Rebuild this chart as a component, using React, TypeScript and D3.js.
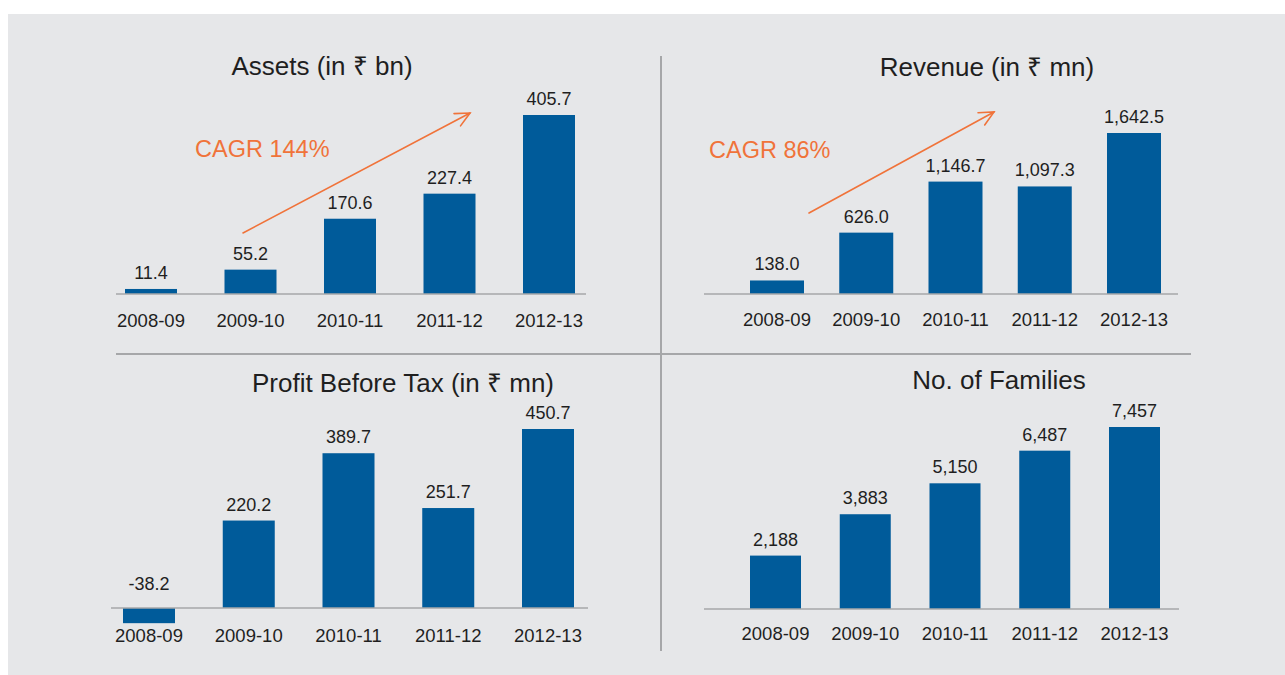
import { scaleBand, scaleLinear, formatLocale } from "d3";

// data
const years = ["2008-09", "2009-10", "2010-11", "2011-12", "2012-13"];
const assets = [11.4, 55.2, 170.6, 227.4, 405.7];
const revenue = [138.0, 626.0, 1146.7, 1097.3, 1642.5];
const profitBeforeTax = [-38.2, 220.2, 389.7, 251.7, 450.7];
const families = [2188, 3883, 5150, 6487, 7457];
const titles = ["Assets (in ₹ bn)", "Revenue (in ₹ mn)", "Profit Before Tax (in ₹ mn)", "No. of Families"];
const cagrLabels = ["CAGR 144%", "CAGR 86%"];

const loc = formatLocale({ decimal: ".", thousands: ",", grouping: [3], currency: ["", ""], minus: "-" });
const fmt1 = loc.format(".1f");
const fmtComma1 = loc.format(",.1f");
const fmtInt = loc.format(",d");

const BAR = "#005B9A";
const ORANGE = "#F0733A";
const GRID = "#A6A7A9";
const TEXT = "#1f1f1f";
const FONT = "'Liberation Sans', Arial, Helvetica, sans-serif";

// layout of each panel
const panels = [
  { values: assets, fmt: fmt1, title: titles[0], titleX: 322, titleY: 75, x0: 125, x1: 575, bw: 52,
    base: 294, maxY: 115, axis: [116, 586], catDy: 33, cagr: { text: cagrLabels[0], x: 195, y: 157, from: [243, 233], to: [470, 113] } },
  { values: revenue, fmt: fmtComma1, title: titles[1], titleX: 987, titleY: 76, x0: 750, x1: 1161, bw: 54,
    base: 294, maxY: 133, axis: [704, 1178], catDy: 32, cagr: { text: cagrLabels[1], x: 709, y: 158, from: [809, 213], to: [994, 112] } },
  { values: profitBeforeTax, fmt: fmt1, title: titles[2], titleX: 403, titleY: 392, x0: 123, x1: 574, bw: 52,
    base: 608, maxY: 429, axis: [111, 588], catDy: 34, cagr: null },
  { values: families, fmt: fmtInt, title: titles[3], titleX: 999, titleY: 389, x0: 750, x1: 1160, bw: 51,
    base: 609, maxY: 427, axis: [704, 1179], catDy: 31, cagr: null },
];

const Panel = ({ p }) => {
  const step = (p.x1 - p.bw - p.x0) / (years.length - 1);
  const pad = 1 - p.bw / step;
  const x = scaleBand()
    .domain(years)
    .range([p.x0 - (step - p.bw) / 2, p.x1 + (step - p.bw) / 2])
    .paddingInner(pad)
    .paddingOuter(pad / 2);
  const top = Math.max(...p.values);
  const y = scaleLinear().domain([0, top]).range([p.base, p.maxY]);

  const c = p.cagr;
  let arrow = null;
  if (c) {
    const [ax, ay] = c.from;
    const [bx, by] = c.to;
    const ang = Math.atan2(by - ay, bx - ax);
    const len = 16;
    const spread = 0.45;
    const h1 = [bx - len * Math.cos(ang - spread), by - len * Math.sin(ang - spread)];
    const h2 = [bx - len * Math.cos(ang + spread), by - len * Math.sin(ang + spread)];
    arrow = (
      <g stroke={ORANGE} strokeWidth={1.6} fill="none" strokeLinecap="round">
        <line x1={ax} y1={ay} x2={bx} y2={by} />
        <polyline points={`${h1[0]},${h1[1]} ${bx},${by} ${h2[0]},${h2[1]}`} />
      </g>
    );
  }

  return (
    <g>
      <text x={p.titleX} y={p.titleY} textAnchor="middle" fontSize={26} fill={TEXT}>{p.title}</text>
      {p.values.map((v, i) => {
        const yr = years[i];
        const yv = y(v);
        return (
          <g key={yr}>
            <rect x={x(yr)} y={Math.min(yv, y(0))} width={x.bandwidth()} height={Math.abs(y(0) - yv)} fill={BAR} />
            <text x={x(yr) + x.bandwidth() / 2} y={v >= 0 ? yv - 10 : y(0) - 18} textAnchor="middle" fontSize={18} fill={TEXT}>
              {p.fmt(v)}
            </text>
            <text x={x(yr) + x.bandwidth() / 2} y={p.base + p.catDy} textAnchor="middle" fontSize={18.5} fill={TEXT}>
              {yr}
            </text>
          </g>
        );
      })}
      <line x1={p.axis[0]} x2={p.axis[1]} y1={p.base} y2={p.base} stroke={GRID} strokeWidth={1.5} />
      {arrow}
      {c && <text x={c.x} y={c.y} fontSize={23.5} fill={ORANGE}>{c.text}</text>}
    </g>
  );
};

export default function App() {
  return (
    <svg width={1285} height={675} style={{ position: "absolute", left: 0, top: 0, fontFamily: FONT }}>
      <rect x={0} y={0} width={1285} height={675} fill="#ffffff" />
      <rect x={8} y={14} width={1277} height={661} fill="#E6E7E9" />
      <line x1={661} x2={661} y1={56} y2={651} stroke={GRID} strokeWidth={2} />
      <line x1={116} x2={1191} y1={354} y2={354} stroke={GRID} strokeWidth={2} />
      {panels.map((p) => <Panel key={p.title} p={p} />)}
    </svg>
  );
}
